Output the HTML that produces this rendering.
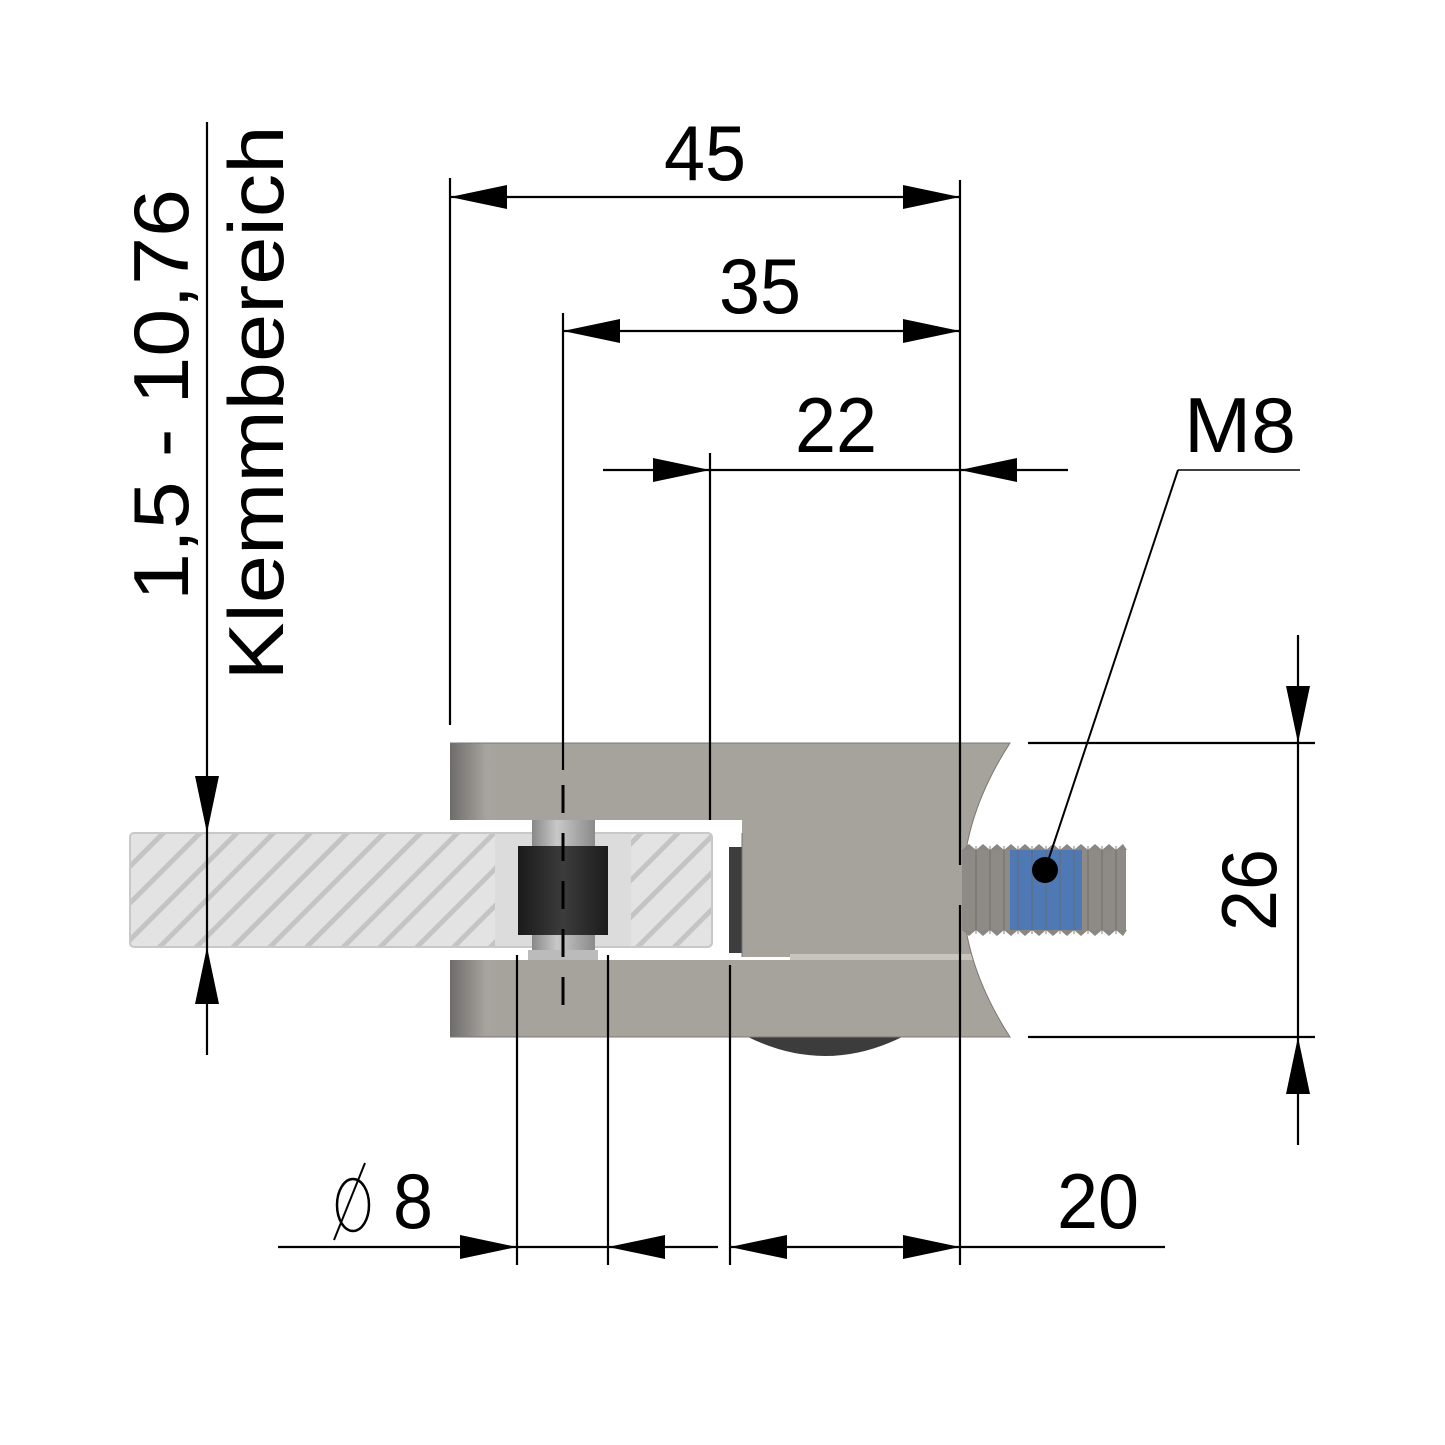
<!DOCTYPE html>
<html><head><meta charset="utf-8"><style>html,body{margin:0;padding:0;background:#fff}svg{display:block}</style></head>
<body>
<svg width="1445" height="1445" viewBox="0 0 1445 1445" xmlns="http://www.w3.org/2000/svg">
<defs>
<linearGradient id="arm" x1="0" x2="1" y1="0" y2="0">
<stop offset="0" stop-color="#6e6c69"/><stop offset="0.06" stop-color="#a7a39e"/><stop offset="0.1" stop-color="#a6a29c"/><stop offset="1" stop-color="#a6a29c"/>
</linearGradient>
<linearGradient id="cyl" x1="0" x2="1"><stop offset="0" stop-color="#1a1a1a"/><stop offset="0.5" stop-color="#3c3c3c"/><stop offset="1" stop-color="#1c1c1c"/></linearGradient>
<linearGradient id="bush" x1="0" x2="1"><stop offset="0" stop-color="#888"/><stop offset="0.4" stop-color="#c8c8c8"/><stop offset="1" stop-color="#8a8a8a"/></linearGradient>
<pattern id="hatch" patternUnits="userSpaceOnUse" width="26" height="26" patternTransform="rotate(45)">
<rect width="26" height="26" fill="#e3e3e3"/><rect x="0" y="0" width="5" height="26" fill="#c4c4c4"/>
</pattern>
<clipPath id="body"><path d="M450,743 H1010 Q915,890 1010,1037 H450 Z"/></clipPath>
</defs>

<rect x="130" y="833" width="582" height="114" rx="4" fill="url(#hatch)" stroke="#c8c8c8" stroke-width="2"/>
<rect x="495" y="834" width="136" height="112" fill="#dcdcdc"/>

<path d="M748,1037 Q825,1075 902,1037 Z" fill="#3c3c3c"/>

<g clip-path="url(#body)">
<rect x="450" y="743" width="600" height="77" fill="url(#arm)"/>
<rect x="742" y="743" width="300" height="214" fill="#a6a29c"/>
<rect x="450" y="960" width="600" height="77" fill="url(#arm)"/>
<rect x="790" y="954" width="190" height="6" fill="#c9c4bc"/>
</g>
<path d="M450,743 H1010 Q915,890 1010,1037 H450" fill="none" stroke="#7a7874" stroke-width="1"/>
<rect x="729" y="847" width="13" height="106" fill="#3d3d3d"/>
<line x1="742" y1="833" x2="742" y2="957" stroke="#777" stroke-width="1"/>

<rect x="532" y="820" width="63" height="130" fill="url(#bush)"/>
<rect x="528" y="950" width="70" height="10" fill="#bbb"/>
<rect x="518" y="846" width="90" height="89" fill="url(#cyl)"/>

<rect x="962" y="850" width="164" height="80" fill="#8e8b87"/>
<rect x="1010" y="850" width="72" height="80" fill="#4f79b5"/>
<path d="M962,850 l7,-6 l7,6 l7,-6 l7,6 l7,-6 l7,6 l7,-6 l7,6 l7,-6 l7,6 l7,-6 l7,6 l7,-6 l7,6 l7,-6 l7,6 l7,-6 l7,6 l7,-6 l7,6 l7,-6 l7,6 l7,-6 l4,6 Z" fill="#8a8783"/>
<path d="M962,930 l7,6 l7,-6 l7,6 l7,-6 l7,6 l7,-6 l7,6 l7,-6 l7,6 l7,-6 l7,6 l7,-6 l7,6 l7,-6 l7,6 l7,-6 l7,6 l7,-6 l7,6 l7,-6 l7,6 l7,-6 l7,6 l4,-6 Z" fill="#8a8783"/>
<g stroke="#6a6864" stroke-width="1.2" opacity="0.7">
<line x1="976" y1="846" x2="976" y2="934"/><line x1="990" y1="846" x2="990" y2="934"/><line x1="1004" y1="846" x2="1004" y2="934"/><line x1="1018" y1="846" x2="1018" y2="934"/><line x1="1032" y1="846" x2="1032" y2="934"/><line x1="1046" y1="846" x2="1046" y2="934"/><line x1="1060" y1="846" x2="1060" y2="934"/><line x1="1074" y1="846" x2="1074" y2="934"/><line x1="1088" y1="846" x2="1088" y2="934"/><line x1="1102" y1="846" x2="1102" y2="934"/><line x1="1116" y1="846" x2="1116" y2="934"/>
</g>

<g stroke="#000" stroke-width="2.2" fill="none">
<line x1="450" y1="178" x2="450" y2="725"/>
<line x1="960" y1="180" x2="960" y2="865"/>
<line x1="960" y1="905" x2="960" y2="1265"/>
<line x1="450" y1="197" x2="960" y2="197"/>
<line x1="563" y1="313" x2="563" y2="770"/>
<line x1="563" y1="331" x2="960" y2="331"/>
<line x1="603" y1="470" x2="1068" y2="470"/>
<line x1="710" y1="453" x2="710" y2="820"/>
<line x1="1178" y1="470" x2="1300" y2="470" stroke-width="1.5"/>
<line x1="1178" y1="470" x2="1045" y2="870" stroke-width="2"/>
<line x1="1298" y1="635" x2="1298" y2="1145"/>
<line x1="1028" y1="743" x2="1315" y2="743"/>
<line x1="1028" y1="1037" x2="1315" y2="1037"/>
<line x1="278" y1="1247" x2="718" y2="1247"/>
<line x1="730" y1="1247" x2="1165" y2="1247"/>
<line x1="517" y1="955" x2="517" y2="1265"/>
<line x1="608" y1="955" x2="608" y2="1265"/>
<line x1="730" y1="965" x2="730" y2="1265"/>
<line x1="207" y1="122" x2="207" y2="1055"/>
</g>
<line x1="563" y1="785" x2="563" y2="1010" stroke="#000" stroke-width="3" stroke-dasharray="28,20"/>

<g fill="#000">
<path d="M450,197 l57,-12 v24 Z"/><path d="M960,197 l-57,-12 v24 Z"/>
<path d="M563,331 l57,-12 v24 Z"/><path d="M960,331 l-57,-12 v24 Z"/>
<path d="M710,470 l-57,-12 v24 Z"/><path d="M960,470 l57,-12 v24 Z"/>
<path d="M1298,743 l-12,-57 h24 Z"/><path d="M1298,1037 l-12,57 h24 Z"/>
<path d="M517,1247 l-57,-12 v24 Z"/><path d="M608,1247 l57,-12 v24 Z"/>
<path d="M730,1247 l57,-12 v24 Z"/><path d="M960,1247 l-57,-12 v24 Z"/>
<path d="M207,833 l-12,-57 h24 Z"/><path d="M207,947 l-12,57 h24 Z"/>
<circle cx="1045" cy="870" r="13"/>
</g>

<g font-family="'Liberation Sans', sans-serif" font-size="78" fill="#000">
<text x="705" y="180" text-anchor="middle" textLength="82" lengthAdjust="spacingAndGlyphs">45</text>
<text x="760" y="313" text-anchor="middle" textLength="82" lengthAdjust="spacingAndGlyphs">35</text>
<text x="836" y="452" text-anchor="middle" textLength="82" lengthAdjust="spacingAndGlyphs">22</text>
<text x="1240" y="452" text-anchor="middle" textLength="112" lengthAdjust="spacingAndGlyphs">M8</text>
<text x="1098" y="1228" text-anchor="middle" textLength="82" lengthAdjust="spacingAndGlyphs">20</text>
<text x="413" y="1228" text-anchor="middle" textLength="40" lengthAdjust="spacingAndGlyphs">8</text>
<text transform="translate(1276,890) rotate(-90)" text-anchor="middle" textLength="82" lengthAdjust="spacingAndGlyphs">26</text>
<text transform="translate(188,395) rotate(-90)" text-anchor="middle" textLength="412" lengthAdjust="spacingAndGlyphs">1,5 - 10,76</text>
<text transform="translate(283,403) rotate(-90)" text-anchor="middle" textLength="555" lengthAdjust="spacingAndGlyphs">Klemmbereich</text>
</g>
<ellipse cx="353" cy="1205" rx="16" ry="26" fill="none" stroke="#000" stroke-width="2.5"/>
<line x1="334" y1="1240" x2="365" y2="1163" stroke="#000" stroke-width="2"/>
</svg>
</body></html>
